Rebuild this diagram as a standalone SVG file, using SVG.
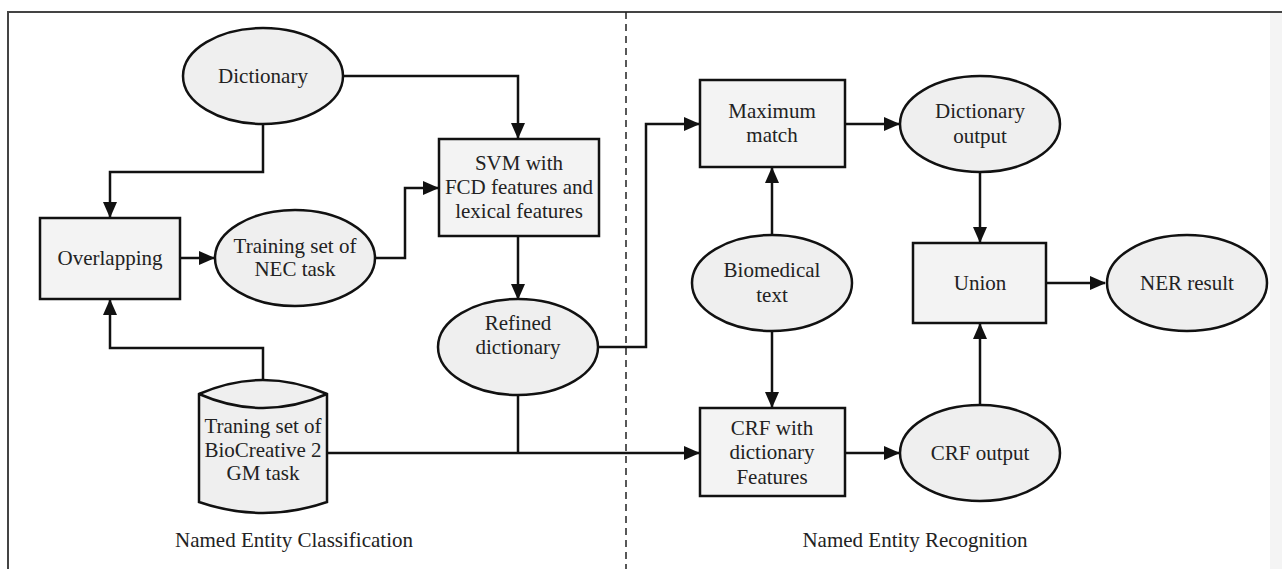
<svg xmlns="http://www.w3.org/2000/svg" width="1282" height="569" viewBox="0 0 1282 569">
<style>
.n{fill:#efefef;stroke:#111;stroke-width:2.5}
.b{fill:#f3f3f3;stroke:#111;stroke-width:2.5}
.t{font-family:"Liberation Serif","Times New Roman",serif;font-size:21px;fill:#222;text-anchor:middle}
.c{fill:none;stroke:#111;stroke-width:2.5}
</style>
<defs>
<marker id="a" markerUnits="userSpaceOnUse" markerWidth="16" markerHeight="14" refX="15" refY="7" orient="auto">
<path d="M0,0 L16,7 L0,14 Z" fill="#111"/>
</marker>
</defs>
<rect x="0" y="0" width="1282" height="569" fill="#fff"/>
<rect x="1270" y="12" width="12" height="557" fill="#f4f4f4"/>
<g id="frame">
<path d="M8,569 V12 H1282" fill="none" stroke="#444" stroke-width="2"/>
<path d="M626,12 V569" fill="none" stroke="#222" stroke-width="1.5" stroke-dasharray="7,5"/>
</g>
<g id="connectors">
<path class="c" d="M343,76 H518 V138" marker-end="url(#a)"/>
<path class="c" d="M263,124 V172 H110 V217" marker-end="url(#a)"/>
<path class="c" d="M180,258 H214" marker-end="url(#a)"/>
<path class="c" d="M375,258 H405 V188 H438" marker-end="url(#a)"/>
<path class="c" d="M518,236 V299" marker-end="url(#a)"/>
<path class="c" d="M599,347 H646 V124 H699" marker-end="url(#a)"/>
<path class="c" d="M263,380 V348 H110 V300" marker-end="url(#a)"/>
<path class="c" d="M518,395 V453"/>
<path class="c" d="M327,453 H699" marker-end="url(#a)"/>
<path class="c" d="M845,124 H899" marker-end="url(#a)"/>
<path class="c" d="M980,172 V242" marker-end="url(#a)"/>
<path class="c" d="M1046,283 H1105" marker-end="url(#a)"/>
<path class="c" d="M772,235 V168" marker-end="url(#a)"/>
<path class="c" d="M772,332 V407" marker-end="url(#a)"/>
<path class="c" d="M845,453 H899" marker-end="url(#a)"/>
<path class="c" d="M980,405 V324" marker-end="url(#a)"/>
</g>
<g id="dictionary">
<ellipse class="n" cx="263" cy="76" rx="80" ry="48"/>
<text class="t" x="263" y="83">Dictionary</text>
</g>
<g id="svm">
<rect class="b" x="439" y="139" width="160" height="97"/>
<text class="t" x="519" y="170">SVM with</text>
<text class="t" x="519" y="194">FCD features and</text>
<text class="t" x="519" y="218">lexical features</text>
</g>
<g id="overlapping">
<rect class="b" x="40" y="218" width="140" height="81"/>
<text class="t" x="110" y="265">Overlapping</text>
</g>
<g id="training-nec">
<ellipse class="n" cx="295" cy="258" rx="80" ry="48"/>
<text class="t" x="295" y="253">Training set of</text>
<text class="t" x="295" y="276">NEC task</text>
</g>
<g id="refined">
<ellipse class="n" cx="518" cy="347" rx="80" ry="48"/>
<text class="t" x="518" y="330">Refined</text>
<text class="t" x="518" y="354">dictionary</text>
</g>
<g id="biocreative">
<path class="n" d="M199,394 Q263,366 327,394 V502 Q263,524 199,502 Z"/>
<path class="c" d="M199,394 Q263,422 327,394"/>
<text class="t" x="263" y="433">Traning set of</text>
<text class="t" x="263" y="457">BioCreative 2</text>
<text class="t" x="263" y="480">GM task</text>
</g>
<g id="maxmatch">
<rect class="b" x="700" y="80" width="145" height="87"/>
<text class="t" x="772" y="118">Maximum</text>
<text class="t" x="772" y="142">match</text>
</g>
<g id="dict-output">
<ellipse class="n" cx="980" cy="124" rx="80" ry="48"/>
<text class="t" x="980" y="118">Dictionary</text>
<text class="t" x="980" y="143">output</text>
</g>
<g id="biomedical">
<ellipse class="n" cx="772" cy="283" rx="80" ry="48"/>
<text class="t" x="772" y="277">Biomedical</text>
<text class="t" x="772" y="302">text</text>
</g>
<g id="union">
<rect class="b" x="913" y="243" width="133" height="80"/>
<text class="t" x="980" y="290">Union</text>
</g>
<g id="ner">
<ellipse class="n" cx="1187" cy="283" rx="80" ry="48"/>
<text class="t" x="1187" y="290">NER result</text>
</g>
<g id="crf">
<rect class="b" x="700" y="408" width="145" height="88"/>
<text class="t" x="772" y="435">CRF with</text>
<text class="t" x="772" y="459">dictionary</text>
<text class="t" x="772" y="484">Features</text>
</g>
<g id="crf-output">
<ellipse class="n" cx="980" cy="453" rx="80" ry="48"/>
<text class="t" x="980" y="460">CRF output</text>
</g>
<g id="labels">
<text class="t" x="294" y="547">Named Entity Classification</text>
<text class="t" x="915" y="547">Named Entity Recognition</text>
</g>
</svg>
